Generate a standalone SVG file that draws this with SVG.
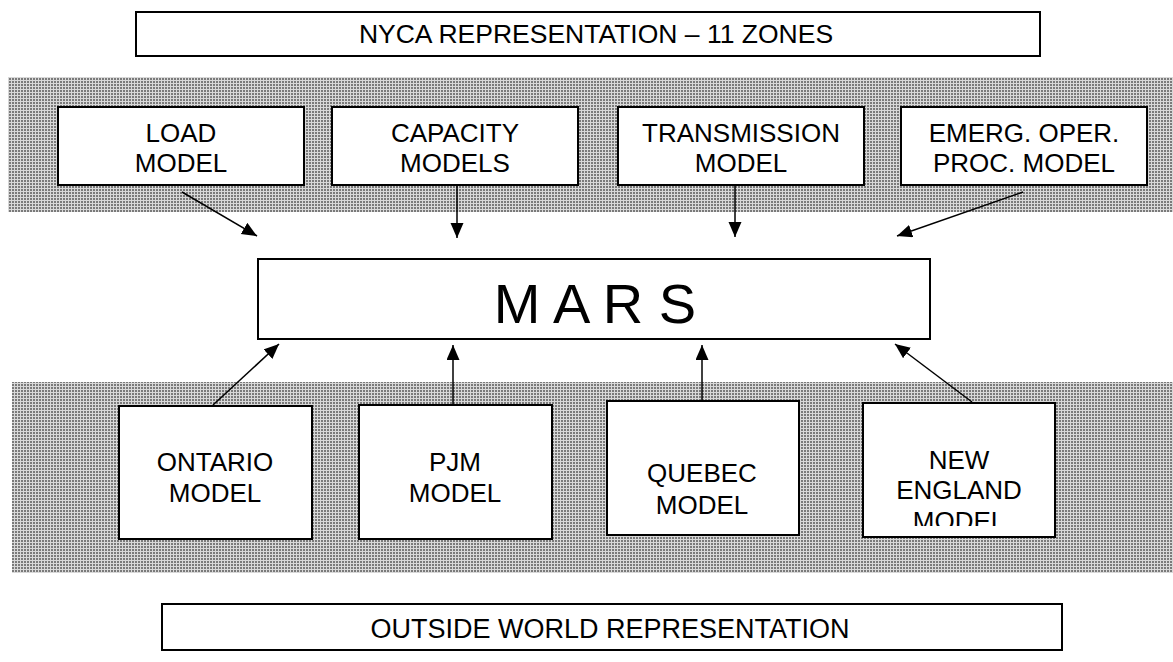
<svg xmlns="http://www.w3.org/2000/svg" width="1173" height="662" viewBox="0 0 1173 662">
  <style>
    .box { fill: #fff; stroke: #000; stroke-width: 2; }
    .lbl { font-family: "Liberation Sans", Arial, sans-serif; font-size: 26px; fill: #000; text-anchor: middle; }
    .conn { stroke: #000; stroke-width: 1.5; fill: none; marker-end: url(#arrow); }
  </style>
  <defs>
    <pattern id="dots" width="3" height="3" patternUnits="userSpaceOnUse">
      <rect width="3" height="3" fill="#d8d8d8"/>
      <rect width="2" height="2" fill="#7a7a7a"/>
    </pattern>
    <marker id="arrow" markerUnits="userSpaceOnUse" markerWidth="16" markerHeight="14" refX="15" refY="6.5" orient="auto">
      <path d="M0,0 L15,6.5 L0,13 z" fill="#000"/>
    </marker>
    <clipPath id="neclip">
      <rect x="863" y="403" width="192" height="123"/>
    </clipPath>
  </defs>

  <g id="bands">
    <rect x="8" y="77" width="1165" height="135" fill="url(#dots)"/>
    <rect x="12" y="382" width="1161" height="191" fill="url(#dots)"/>
  </g>

  <g id="nyca">
    <rect class="box" x="136" y="12" width="904" height="44"/>
    <text class="lbl" x="596" y="43" style="font-size:26.5px">NYCA REPRESENTATION – 11 ZONES</text>
  </g>

  <g id="load">
    <rect class="box" x="58" y="107" width="246" height="78"/>
    <text class="lbl" x="181" y="142">LOAD</text>
    <text class="lbl" x="181" y="172">MODEL</text>
  </g>
  <g id="capacity">
    <rect class="box" x="332" y="107" width="246" height="78"/>
    <text class="lbl" x="455" y="142">CAPACITY</text>
    <text class="lbl" x="455" y="172">MODELS</text>
  </g>
  <g id="transmission">
    <rect class="box" x="618" y="107" width="246" height="78"/>
    <text class="lbl" x="741" y="142">TRANSMISSION</text>
    <text class="lbl" x="741" y="172">MODEL</text>
  </g>
  <g id="emerg">
    <rect class="box" x="901" y="107" width="246" height="78"/>
    <text class="lbl" x="1024" y="142">EMERG. OPER.</text>
    <text class="lbl" x="1024" y="172">PROC. MODEL</text>
  </g>

  <g id="mars">
    <rect class="box" x="258" y="259" width="672" height="80"/>
    <text class="lbl" x="595" y="323" style="font-size:56px">M A R S</text>
  </g>

  <g id="ontario">
    <rect class="box" x="119" y="406" width="193" height="133"/>
    <text class="lbl" x="215" y="471">ONTARIO</text>
    <text class="lbl" x="215" y="502">MODEL</text>
  </g>
  <g id="pjm">
    <rect class="box" x="359" y="405" width="193" height="134"/>
    <text class="lbl" x="455" y="471">PJM</text>
    <text class="lbl" x="455" y="502">MODEL</text>
  </g>
  <g id="quebec">
    <rect class="box" x="607" y="401" width="192" height="134"/>
    <text class="lbl" x="702" y="482">QUEBEC</text>
    <text class="lbl" x="702" y="514">MODEL</text>
  </g>
  <g id="newengland">
    <rect class="box" x="863" y="403" width="192" height="134"/>
    <g clip-path="url(#neclip)">
      <text class="lbl" x="959" y="469">NEW</text>
      <text class="lbl" x="959" y="499">ENGLAND</text>
      <text class="lbl" x="959" y="530">MODEL</text>
    </g>
  </g>

  <g id="outside">
    <rect class="box" x="162" y="604" width="900" height="46"/>
    <text class="lbl" x="610" y="638" style="font-size:27px">OUTSIDE WORLD REPRESENTATION</text>
  </g>

  <g id="connectors">
    <line class="conn" x1="182" y1="192" x2="257" y2="236"/>
    <line class="conn" x1="457" y1="185" x2="457" y2="238"/>
    <line class="conn" x1="735" y1="185" x2="735" y2="237"/>
    <line class="conn" x1="1023" y1="192" x2="897" y2="236"/>
    <line class="conn" x1="213" y1="405" x2="279" y2="344"/>
    <line class="conn" x1="453" y1="405" x2="453" y2="345"/>
    <line class="conn" x1="702" y1="401" x2="702" y2="345"/>
    <line class="conn" x1="972" y1="402" x2="895" y2="344"/>
  </g>
</svg>
